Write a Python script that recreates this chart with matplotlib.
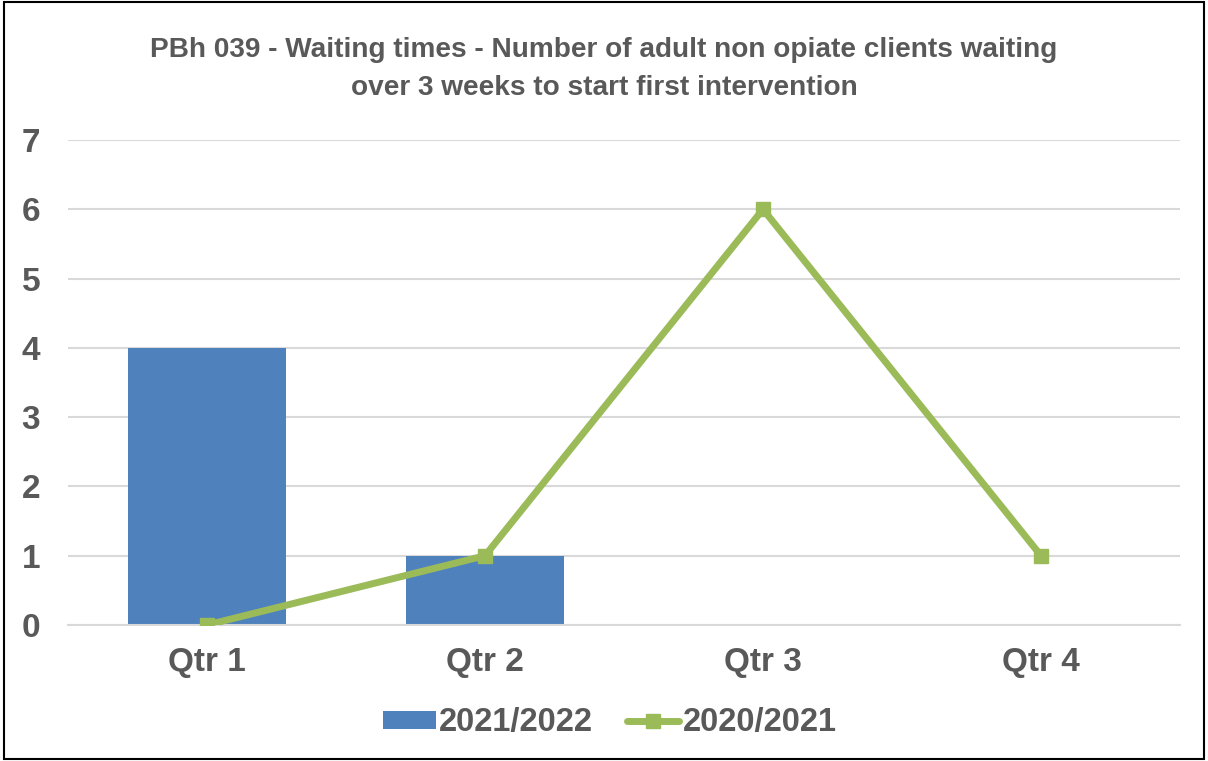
import matplotlib
matplotlib.use("Agg")
import matplotlib.pyplot as plt
from matplotlib.patches import Rectangle
import numpy as np

categories = ["Qtr 1", "Qtr 2", "Qtr 3", "Qtr 4"]
series_2122 = [4, 1, 0, 0]
series_2021 = [0, 1, 6, 1]
yticks = [0, 1, 2, 3, 4, 5, 6, 7]
title = "PBh 039 - Waiting times - Number of adult non opiate clients waiting\nover 3 weeks to start first intervention"

plt.rcParams['font.family'] = ['Liberation Sans', 'DejaVu Sans']
txt = '#595959'

fig = plt.figure(figsize=(12.08, 7.61), dpi=100)
ax = fig.add_axes([68/1208, 1-625/761, 1112/1208, 485/761])

x = np.arange(len(categories))
bars = ax.bar(x, series_2122, width=0.57, color='#4F81BD', label='2021/2022', zorder=2)
line, = ax.plot(x, series_2021, color='#9BBB59', linewidth=5, marker='s', markersize=10,
                label='2020/2021', zorder=3, solid_capstyle='round')

ax.set_xlim(-0.5, 3.5)
ax.set_ylim(0, 7)
ax.set_yticks(yticks)
ax.set_xticks(x)
ax.set_xticklabels(categories)
ax.yaxis.grid(True, color='#D9D9D9', linewidth=1.5, zorder=0)
ax.set_axisbelow(True)
for s in ['top', 'right', 'left']:
    ax.spines[s].set_visible(False)
ax.spines['bottom'].set_color('#D9D9D9')
ax.spines['bottom'].set_linewidth(1.5)
ax.tick_params(axis='both', length=0, labelsize=24, labelcolor=txt)
for lab in ax.get_xticklabels() + ax.get_yticklabels():
    lab.set_fontweight('bold')
ax.tick_params(axis='y', pad=20)
ax.tick_params(axis='x', pad=16)

fig.text(0.5, 1-69/761, title, ha='center', va='center', fontsize=20.2,
         fontweight='bold', color=txt, linespacing=1.6)

leg = fig.legend(handles=[bars, line], labels=['2021/2022', '2020/2021'],
                 loc='center', bbox_to_anchor=(0.505, 1-723/761), ncol=2, frameon=False,
                 prop={'size': 23.5, 'weight': 'bold'}, handlelength=1.6, handleheight=0.5,
                 columnspacing=1.05, handletextpad=0.1)
for t in leg.get_texts():
    t.set_color(txt)

fig.patches.append(Rectangle((0.003, 0.002), 0.994, 0.996, transform=fig.transFigure,
                             fill=False, edgecolor='black', linewidth=1.5))

fig.savefig('out.png', dpi=100)
